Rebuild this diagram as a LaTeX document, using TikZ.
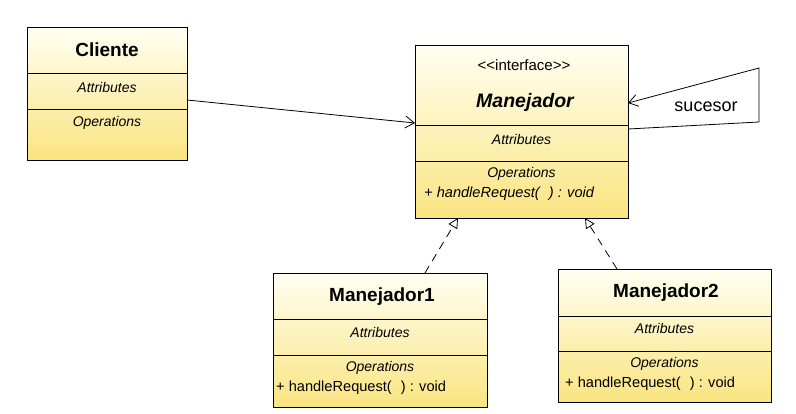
\documentclass[tikz,border=0pt]{standalone}
\usepackage{fontspec}
\setmainfont{Liberation Sans}
\usetikzlibrary{arrows.meta,calc}
\definecolor{boxtop}{RGB}{255,255,242}
\definecolor{boxbot}{RGB}{250,228,128}
\begin{document}
\begin{tikzpicture}[x=1pt,y=-1pt,
  umlbox/.style={draw=black, line width=0.8pt, top color=boxtop, bottom color=boxbot, anchor=north west, inner sep=0pt},
  divider/.style={draw=black, line width=0.8pt},
  ttl/.style={font=\fontsize{19}{22}\selectfont\bfseries, inner sep=0pt},
  ttli/.style={font=\fontsize{19.5}{22}\selectfont\bfseries\itshape, inner sep=0pt},
  sm/.style={font=\fontsize{14}{16}\selectfont\itshape, inner sep=0pt},
  smr/.style={font=\fontsize{15}{17}\selectfont, inner sep=0pt},
  op/.style={font=\fontsize{14.6}{17}\selectfont, inner sep=0pt, anchor=west},
  lbl/.style={font=\fontsize{18}{21}\selectfont, inner sep=0pt},
  assoc/.style={draw=black, line width=0.8pt, -{Straight Barb[length=9pt,width=12pt]}},
  real/.style={draw=black, line width=0.8pt, dash pattern=on 8pt off 6pt, -{Triangle[open,length=10pt,width=10pt,fill=white]}}
]
\useasboundingbox (0,0) rectangle (796,413);

% Cliente
\node[umlbox, minimum width=160pt, minimum height=133pt] (cli) at (27,27) {};
\draw[divider] (27,73) -- (187,73);
\draw[divider] (27,109) -- (187,109);
\node[ttl] (cliT) at (107,50) {Cliente};
\node[sm] (cliA) at (107,87) {Attributes};
\node[sm] (cliO) at (107,123) {Operations};

% Manejador
\node[umlbox, minimum width=213pt, minimum height=173pt] (man) at (415,45) {};
\draw[divider] (415,125) -- (628,125);
\draw[divider] (415,161) -- (628,161);
\node[smr] (manS) at (524,65) {{<}{<}interface{>}{>}};
\node[ttli] (manT) at (525,102) {Manejador};
\node[sm] (manA) at (521.5,139) {Attributes};
\node[sm] (manO) at (521.5,174) {Operations};
\node[op, font=\fontsize{14.6}{17}\selectfont\itshape] (manH) at (424,194) {+ handleRequest(\hspace{9pt}) : void};

% Manejador1
\node[umlbox, minimum width=214pt, minimum height=134pt] (m1) at (273,273) {};
\draw[divider] (273,319) -- (487,319);
\draw[divider] (273,355) -- (487,355);
\node[ttl] (m1T) at (382,297) {Manejador1};
\node[sm] (m1A) at (380,332) {Attributes};
\node[sm] (m1O) at (380,368) {Operations};
\node[op] (m1H) at (276,388) {+ handleRequest(\hspace{9pt}) : void};

% Manejador2
\node[umlbox, minimum width=213pt, minimum height=133pt] (m2) at (558,269) {};
\draw[divider] (558,316) -- (771,316);
\draw[divider] (558,351) -- (771,351);
\node[ttl] (m2T) at (666,293) {Manejador2};
\node[sm] (m2A) at (664.5,328) {Attributes};
\node[sm] (m2O) at (664.5,364) {Operations};
\node[op] (m2H) at (565,384) {+ handleRequest(\hspace{9pt}) : void};

% Cliente -> Manejador
\coordinate (cA) at (187,100);
\coordinate (mA) at (415,123);
\draw[assoc] (cA) -- (mA);

% self association
\coordinate (s1) at (628,129);
\coordinate (s2) at (759,122);
\coordinate (s3) at (759,68);
\coordinate (s4) at (628,103);
\draw[assoc] (s1) -- (s2) -- (s3) -- (s4);
\node[lbl] (suc) at (706,107) {sucesor};

% realizations
\coordinate (r1a) at (425,273);
\coordinate (r1b) at (458,218);
\coordinate (r2a) at (617,269);
\coordinate (r2b) at (585,218);
\draw[real] (r1a) -- (r1b);
\draw[real] (r2a) -- (r2b);
\end{tikzpicture}
\end{document}
